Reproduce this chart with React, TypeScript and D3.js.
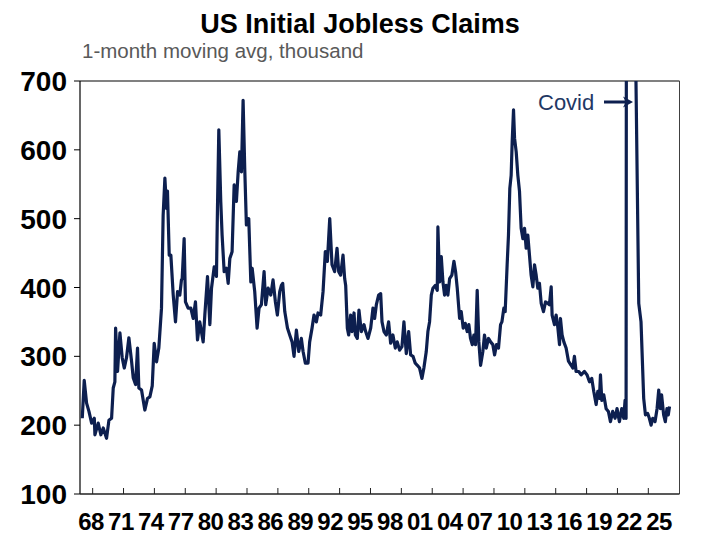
import React from "react";
import * as d3 from "d3";

// Decimal year of each reading (weekly claims, 1-month moving average)
const years = [
  1966.99, 1967.18, 1967.41, 1967.64, 1967.9, 1968.16, 1968.22, 1968.54, 1968.8, 1969.03,
  1969.35, 1969.58, 1969.84, 1970.0, 1970.16, 1970.23, 1970.42, 1970.65, 1970.87, 1971.07,
  1971.29, 1971.52, 1971.78, 1971.94, 1972.17, 1972.36, 1972.49, 1972.75, 1973.07, 1973.33,
  1973.56, 1973.79, 1973.98, 1974.21, 1974.43, 1974.69, 1974.85, 1975.02, 1975.18, 1975.27,
  1975.44, 1975.6, 1975.83, 1976.05, 1976.25, 1976.47, 1976.63,
  1976.7, 1976.89, 1977.02, 1977.28, 1977.54, 1977.77, 1977.99, 1978.19, 1978.41, 1978.74,
  1978.9, 1979.16, 1979.39, 1979.55, 1979.81, 1980.03, 1980.13, 1980.26, 1980.45, 1980.58,
  1980.78, 1981.0, 1981.17, 1981.33, 1981.55, 1981.75, 1981.97, 1982.14, 1982.3, 1982.46,
  1982.62, 1982.78, 1982.94, 1983.17, 1983.37, 1983.5, 1983.75, 1983.98, 1984.17, 1984.4,
  1984.66, 1984.82, 1985.05, 1985.31, 1985.53, 1985.76, 1985.95, 1986.18, 1986.34,
  1986.47, 1986.67, 1986.93, 1987.15, 1987.38, 1987.57, 1987.8, 1988.03, 1988.28, 1988.45,
  1988.67, 1988.93, 1989.09, 1989.32, 1989.51, 1989.74, 1989.9, 1990.16, 1990.39, 1990.61,
  1990.81, 1991.04, 1991.26, 1991.52, 1991.75, 1991.91, 1992.1, 1992.33, 1992.49, 1992.59,
  1992.75, 1992.88, 1993.07, 1993.2, 1993.4, 1993.53, 1993.72, 1993.88, 1994.11, 1994.37,
  1994.53, 1994.76, 1995.02, 1995.24, 1995.4, 1995.57, 1995.79,
  1995.99, 1996.12, 1996.31, 1996.54, 1996.76, 1996.96, 1997.18, 1997.41, 1997.6, 1997.83,
  1998.06, 1998.25, 1998.48, 1998.71, 1998.9, 1999.13, 1999.35, 1999.55, 1999.77, 2000.0,
  2000.19, 2000.42, 2000.58, 2000.74, 2000.91, 2001.07, 2001.29, 2001.49, 2001.55, 2001.72,
  2001.88, 2002.04, 2002.2, 2002.36, 2002.52, 2002.69, 2002.91, 2003.11, 2003.27, 2003.43,
  2003.66, 2003.82, 2004.01, 2004.21, 2004.4, 2004.56, 2004.72, 2004.89, 2005.05, 2005.21,
  2005.37, 2005.53, 2005.7,
  2005.92, 2006.08, 2006.25, 2006.47, 2006.67, 2006.89, 2007.06, 2007.25, 2007.44, 2007.64,
  2007.77, 2007.96, 2008.09, 2008.28, 2008.41, 2008.54, 2008.67, 2008.77, 2008.9, 2009.0,
  2009.16, 2009.32, 2009.48, 2009.64, 2009.81, 2009.97, 2010.13, 2010.29, 2010.45, 2010.61,
  2010.78, 2010.94, 2011.1, 2011.26, 2011.42, 2011.59, 2011.81, 2012.01, 2012.23, 2012.39,
  2012.56, 2012.65, 2012.88, 2013.04, 2013.2, 2013.37, 2013.46, 2013.62, 2013.79, 2014.01,
  2014.24, 2014.5, 2014.66, 2014.82, 2014.98, 2015.24,
  2015.47, 2015.79, 2016.05, 2016.28, 2016.5, 2016.7, 2016.93, 2017.09, 2017.25, 2017.35,
  2017.48, 2017.67, 2017.9, 2018.12, 2018.32, 2018.54, 2018.77, 2018.96, 2019.19, 2019.42,
  2019.61, 2019.74, 2019.84, 2019.9, 2020.4, 2020.75, 2021.07, 2021.29, 2021.55, 2021.72,
  2021.94, 2022.1, 2022.27, 2022.43, 2022.65, 2022.85, 2023.01, 2023.17, 2023.29, 2023.49,
  2023.65, 2023.81, 2023.94, 2024.06,
];

// Initial jobless claims, thousand
const claims = [
  210, 265, 232, 220, 203, 210, 186, 203, 186, 196,
  181, 207, 210, 254, 263, 341, 278, 334, 298, 283,
  298, 327, 293, 269, 259, 312, 254, 251, 222, 239,
  241, 257, 319, 292, 312, 370, 505, 559, 515, 540,
  447, 447, 389, 350, 394, 389, 411,
  413, 471, 379, 370, 370, 355, 379, 324, 350, 321,
  360, 416, 346, 399, 430, 416, 515, 629, 525, 476,
  423, 428, 406, 442, 452, 549, 525, 568, 597, 568,
  672, 573, 491, 500, 408, 428, 394, 341, 370, 375,
  423, 375, 399, 389, 411, 379, 360, 394, 403,
  406, 365, 341, 331, 321, 300, 338, 307, 326, 307,
  290, 290, 321, 341, 360, 350, 363, 360, 394, 452,
  438, 500, 433, 423, 457, 423, 418, 447, 413, 403,
  341, 331, 360, 336, 363, 331, 326, 367, 336, 346,
  336, 326, 341, 370, 355, 375, 389,
  391, 350, 336, 331, 350, 319, 331, 312, 321, 309,
  314, 350, 304, 336, 302, 300, 290, 287, 283, 268,
  283, 307, 336, 350, 389, 399, 403, 396, 488, 408,
  445, 408, 389, 403, 389, 413, 418, 438, 423, 399,
  355, 365, 341, 348, 336, 346, 326, 317, 331, 317,
  396, 321, 287,
  307, 331, 312, 326, 321, 317, 302, 317, 312, 346,
  350, 370, 365, 433, 476, 544, 563, 612, 658, 617,
  597, 563, 540, 486, 471, 486, 457, 476, 447, 418,
  401, 433, 418, 399, 406, 377, 365, 379, 377, 375,
  401, 360, 346, 360, 343, 317, 355, 331, 321, 312,
  293, 287, 283, 300, 278, 278,
  273, 278, 273, 263, 268, 249, 230, 249, 239, 273,
  236, 244, 224, 220, 205, 220, 210, 224, 205, 224,
  210, 236, 210, 1500, 4000, 760, 377, 350, 239, 215,
  217, 210, 200, 210, 205, 224, 251, 224, 244, 215,
  205, 224, 215, 227,
];

const yTicks = [100, 200, 300, 400, 500, 600, 700];
const xTickYears = [1968, 1971, 1974, 1977, 1980, 1983, 1986, 1989, 1992, 1995, 1998, 2001, 2004, 2007, 2010, 2013, 2016, 2019, 2022];
const xLabels = ["68", "71", "74", "77", "80", "83", "86", "89", "92", "95", "98", "01", "04", "07", "10", "13", "16", "19", "22", "25"];

const W = 710;
const H = 534;
const L = 80;
const R = 679.5;
const T = 81;
const B = 494;
const NAVY = "#0d1f4f";
const FONT = "'Liberation Sans', Arial, sans-serif";

export default function App() {
  const x = d3.scaleLinear().domain([1966.77, 2025.03]).range([L, R]);
  const y = d3.scaleLinear().domain([100, 700]).range([B, T]);
  const xl = d3.scalePoint<string>().domain(xLabels).range([91, 659]);

  const pts = years.map((yr, i) => [yr, claims[i]] as [number, number]);
  const line = d3
    .line<[number, number]>()
    .x((d) => x(d[0]))
    .y((d) => y(d[1]));

  return (
    <svg
      width={W}
      height={H}
      viewBox={`0 0 ${W} ${H}`}
      style={{ position: "absolute", left: 0, top: 0, background: "#fff" }}
    >
      <defs>
        <clipPath id="plot">
          <rect x={L} y={T} width={R - L} height={B - T} />
        </clipPath>
      </defs>
      <rect width={W} height={H} fill="#fff" />

      <text x={360} y={33} textAnchor="middle" fontFamily={FONT} fontWeight="bold" fontSize={27} fill="#000">
        US Initial Jobless Claims
      </text>
      <text x={82} y={58} fontFamily={FONT} fontSize={20.5} fill="#595959">
        1-month moving avg, thousand
      </text>

      {/* frame */}
      <line x1={L} x2={R} y1={T} y2={T} stroke="#808080" strokeWidth={2} />
      <line x1={R} x2={R} y1={T} y2={B} stroke="#404040" strokeWidth={1} />
      <line x1={L} x2={L} y1={T} y2={B} stroke="#000" strokeWidth={1.2} />
      <line x1={L} x2={R} y1={B} y2={B} stroke="#222" strokeWidth={1.5} />

      {yTicks.map((t) => (
        <g key={t}>
          <line x1={L - 6} x2={L} y1={y(t)} y2={y(t)} stroke="#000" strokeWidth={1} />
          <text
            x={67}
            y={y(t)}
            dy="0.36em"
            textAnchor="end"
            fontFamily={FONT}
            fontWeight="bold"
            fontSize={28}
            fill="#000"
          >
            {t}
          </text>
        </g>
      ))}

      {xTickYears.map((t) => (
        <line key={t} x1={x(t)} x2={x(t)} y1={B} y2={B - 6} stroke="#222" strokeWidth={1} />
      ))}
      {xLabels.map((lab) => (
        <text
          key={lab}
          x={xl(lab)}
          y={530}
          textAnchor="middle"
          fontFamily={FONT}
          fontWeight="bold"
          fontSize={24}
          letterSpacing={-0.5}
          fill="#000"
        >
          {lab}
        </text>
      ))}

      <path
        d={line(pts) || ""}
        fill="none"
        stroke={NAVY}
        strokeWidth={3.2}
        strokeLinejoin="round"
        clipPath="url(#plot)"
      />

      {/* Covid annotation */}
      <text x={538} y={110} fontFamily={FONT} fontSize={22} fill="#1f3864">
        Covid
      </text>
      <line x1={604} x2={626} y1={102} y2={102} stroke={NAVY} strokeWidth={3} />
      <path d="M 633 102 L 623 96.5 L 626 102 L 623 107.5 Z" fill={NAVY} />
    </svg>
  );
}
